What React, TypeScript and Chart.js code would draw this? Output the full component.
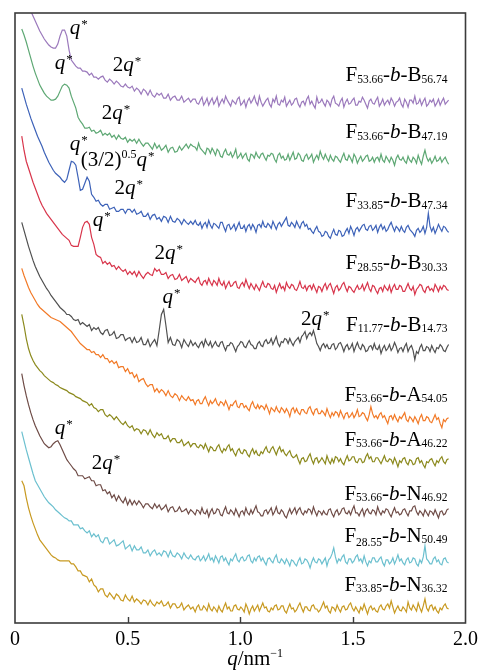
import { useEffect, useRef } from "react";
import { Chart, registerables } from "chart.js";

Chart.register(...registerables);

// Scattering vector q (nm^-1): 0.01 steps up to 0.79, then 0.0075 steps.
const q = [
  0.03, 0.04, 0.05, 0.06, 0.07, 0.08, 0.09, 0.1, 0.11, 0.12,
  0.13, 0.14, 0.15, 0.16, 0.17, 0.18, 0.19, 0.2, 0.21, 0.22,
  0.23, 0.24, 0.25, 0.26, 0.27, 0.28, 0.29, 0.3, 0.31, 0.32,
  0.33, 0.34, 0.35, 0.36, 0.37, 0.38, 0.39, 0.4, 0.41, 0.42,
  0.43, 0.44, 0.45, 0.46, 0.47, 0.48, 0.49, 0.5, 0.51, 0.52,
  0.53, 0.54, 0.55, 0.56, 0.57, 0.58, 0.59, 0.6, 0.61, 0.62,
  0.63, 0.64, 0.65, 0.66, 0.67, 0.68, 0.69, 0.7, 0.71, 0.72,
  0.73, 0.74, 0.75, 0.76, 0.77, 0.78, 0.79,
  0.8, 0.8075, 0.815, 0.8225, 0.83, 0.8375, 0.845, 0.8525, 0.86, 0.8675,
  0.875, 0.8825, 0.89, 0.8975, 0.905, 0.9125, 0.92, 0.9275, 0.935, 0.9425,
  0.95, 0.9575, 0.965, 0.9725, 0.98, 0.9875, 0.995, 1.0025, 1.01, 1.0175,
  1.025, 1.0325, 1.04, 1.0475, 1.055, 1.0625, 1.07, 1.0775, 1.085, 1.0925,
  1.1, 1.1075, 1.115, 1.1225, 1.13, 1.1375, 1.145, 1.1525, 1.16, 1.1675,
  1.175, 1.1825, 1.19, 1.1975, 1.205, 1.2125, 1.22, 1.2275, 1.235, 1.2425,
  1.25, 1.2575, 1.265, 1.2725, 1.28, 1.2875, 1.295, 1.3025, 1.31, 1.3175,
  1.325, 1.3325, 1.34, 1.3475, 1.355, 1.3625, 1.37, 1.3775, 1.385, 1.3925,
  1.4, 1.4075, 1.415, 1.4225, 1.43, 1.4375, 1.445, 1.4525, 1.46, 1.4675,
  1.475, 1.4825, 1.49, 1.4975, 1.505, 1.5125, 1.52, 1.5275, 1.535, 1.5425,
  1.55, 1.5575, 1.565, 1.5725, 1.58, 1.5875, 1.595, 1.6025, 1.61, 1.6175,
  1.625, 1.6325, 1.64, 1.6475, 1.655, 1.6625, 1.67, 1.6775, 1.685, 1.6925,
  1.7, 1.7075, 1.715, 1.7225, 1.73, 1.7375, 1.745, 1.7525, 1.76, 1.7675,
  1.775, 1.7825, 1.79, 1.7975, 1.805, 1.8125, 1.82, 1.8275, 1.835, 1.8425,
  1.85, 1.8575, 1.865, 1.8725, 1.88, 1.8875, 1.895, 1.9025, 1.91, 1.9175,
  1.925,
];

// Vertically offset intensities (a.u.), one array per sample, top to bottom.
const fb5674 = [
  662, 645, 630, 618, 611, 606, 601, 596, 591, 587,
  583, 580, 577, 575, 574, 574, 578, 586, 592, 592,
  586, 572, 562, 559, 556, 554, 554, 551, 551, 550,
  547, 549, 545, 545, 543, 545, 546, 542, 540, 543,
  541, 538, 541, 539, 536, 535, 538, 535, 534, 536,
  531, 534, 532, 528, 533, 531, 527, 532, 527, 525,
  529, 527, 529, 524, 524, 528, 522, 525, 526, 522,
  522, 526, 520, 522, 524, 520, 523,
  523, 519, 518, 522, 525, 517, 520, 524, 517, 521, 524, 518, 521, 525, 516, 520, 523, 519, 526, 522,
  519, 516, 522, 520, 518, 523, 525, 517, 519, 522, 515, 521, 524, 519, 522, 526, 520, 517, 526, 520,
  516, 519, 522, 524, 518, 515, 523, 520, 526, 518, 517, 522, 520, 525, 516, 519, 522, 517, 519, 523,
  524, 518, 515, 520, 521, 517, 523, 526, 518, 521, 517, 514, 525, 519, 520, 523, 519, 516, 522, 520,
  516, 523, 526, 519, 518, 516, 521, 524, 515, 520, 523, 518, 519, 522, 524, 517, 517, 521, 520, 525,
  522, 518, 514, 521, 523, 519, 518, 522, 525, 516, 519, 523, 517, 520, 522, 518, 524, 521, 516, 520,
  521, 524, 518, 515, 523, 520, 515, 522, 522, 519, 526, 518, 519, 523, 517, 521, 524, 516, 518, 522,
  520, 523, 516, 519, 523, 517, 521, 524, 518, 520, 522,
];

const fb4719 = [
  593, 587, 580, 572, 564, 556, 549, 543, 537, 533,
  529, 526, 524, 522, 522, 523, 526, 531, 536, 538,
  537, 534, 526, 520, 514, 505, 501, 498, 494, 494,
  495, 491, 492, 489, 490, 492, 487, 489, 487, 489,
  485, 487, 483, 487, 484, 483, 485, 480, 483, 481,
  483, 479, 483, 479, 476, 479, 479, 476, 473, 479,
  474, 477, 472, 474, 477, 470, 474, 475, 470, 471,
  476, 472, 475, 478, 474, 478, 476,
  475, 472, 479, 474, 472, 470, 468, 474, 473, 469, 474, 471, 467, 473, 471, 466, 465, 470, 473, 468,
  467, 470, 465, 468, 473, 464, 466, 469, 464, 467, 469, 463, 461, 468, 467, 464, 470, 466, 464, 468,
  469, 465, 462, 467, 466, 469, 468, 463, 460, 467, 469, 464, 466, 462, 463, 468, 462, 466, 470, 463,
  464, 469, 467, 462, 461, 466, 468, 463, 465, 468, 460, 464, 467, 463, 471, 466, 463, 468, 464, 461,
  467, 463, 461, 466, 465, 462, 460, 465, 469, 463, 462, 467, 464, 460, 468, 465, 459, 463, 466, 461,
  463, 466, 467, 461, 462, 465, 460, 464, 465, 461, 468, 462, 460, 466, 463, 460, 465, 462, 457, 464,
  467, 463, 462, 465, 461, 459, 466, 462, 460, 465, 463, 459, 467, 462, 458, 466, 472, 465, 461, 464,
  459, 462, 466, 461, 462, 465, 460, 463, 465, 461, 458,
];

const fb4734 = [
  534, 526, 518, 511, 504, 498, 492, 486, 481, 476,
  470, 465, 460, 456, 452, 449, 447, 445, 442, 440,
  443, 452, 461, 460, 457, 445, 432, 433, 439, 445,
  441, 428, 425, 421, 422, 418, 416, 418, 418, 413,
  414, 415, 411, 411, 413, 413, 409, 413, 413, 410,
  413, 408, 409, 411, 406, 406, 409, 403, 407, 408,
  403, 405, 401, 406, 405, 400, 406, 401, 400, 404,
  402, 398, 403, 400, 398, 401, 398,
  402, 398, 397, 400, 394, 398, 400, 395, 402, 397, 394, 399, 398, 396, 394, 400, 400, 395, 391, 397,
  398, 393, 395, 398, 392, 396, 400, 394, 394, 397, 391, 396, 398, 393, 398, 395, 390, 397, 398, 395,
  401, 396, 395, 399, 397, 394, 401, 397, 393, 398, 400, 396, 399, 402, 405, 397, 396, 400, 398, 395,
  401, 397, 394, 399, 401, 396, 398, 393, 394, 391, 389, 393, 396, 391, 390, 386, 387, 391, 390, 386,
  384, 389, 393, 388, 387, 392, 391, 386, 387, 391, 394, 389, 396, 392, 387, 393, 395, 391, 394, 397,
  398, 393, 392, 396, 397, 392, 394, 397, 390, 395, 398, 393, 396, 391, 393, 397, 400, 395, 391, 396,
  394, 391, 396, 392, 390, 395, 397, 393, 391, 389, 386, 392, 394, 390, 392, 396, 389, 395, 409, 396,
  391, 395, 389, 393, 398, 394, 391, 396, 395, 392, 390,
];

const fb3033 = [
  486, 472, 461, 454, 447, 440, 434, 428, 422, 417,
  413, 409, 406, 403, 400, 397, 394, 391, 388, 386,
  384, 382, 377, 376, 376, 376, 385, 395, 400, 401,
  398, 385, 378, 368, 366, 365, 359, 361, 358, 360,
  356, 357, 353, 356, 353, 351, 353, 348, 351, 348,
  351, 346, 351, 347, 344, 348, 350, 348, 347, 354,
  351, 353, 348, 348, 350, 344, 347, 348, 343, 344,
  348, 342, 344, 346, 340, 344, 342,
  340, 343, 345, 339, 337, 341, 342, 338, 344, 340, 337, 342, 340, 337, 344, 339, 337, 341, 334, 338,
  341, 336, 337, 340, 341, 335, 334, 338, 340, 336, 343, 338, 334, 339, 336, 333, 338, 335, 332, 337,
  341, 336, 335, 339, 338, 334, 333, 337, 330, 335, 339, 334, 336, 332, 340, 336, 334, 338, 337, 333,
  332, 336, 341, 335, 334, 337, 332, 336, 337, 333, 338, 334, 330, 336, 335, 331, 336, 339, 333, 337,
  339, 334, 329, 335, 337, 332, 334, 338, 340, 335, 331, 336, 335, 332, 330, 334, 337, 333, 334, 338,
  332, 336, 340, 334, 331, 337, 336, 332, 329, 334, 335, 331, 337, 334, 332, 337, 330, 335, 338, 333,
  333, 337, 336, 331, 331, 335, 339, 334, 332, 336, 328, 333, 335, 338, 337, 332, 330, 335, 336, 332,
  334, 331, 338, 335, 331, 336, 333, 337, 336, 333, 332,
];

const fb1473 = [
  400, 392, 384, 376, 369, 362, 356, 351, 346, 342,
  338, 334, 331, 327, 324, 321, 318, 315, 313, 311,
  308, 308, 306, 303, 302, 303, 298, 300, 298, 296,
  298, 292, 295, 293, 295, 290, 288, 292, 293, 287,
  288, 291, 284, 285, 288, 288, 282, 284, 285, 280,
  285, 280, 281, 285, 278, 278, 283, 276, 280, 283,
  277, 292, 308, 313, 297, 280, 285, 278, 277, 283,
  281, 275, 283, 279, 276, 282, 277,
  280, 277, 275, 279, 281, 276, 283, 279, 277, 281, 275, 278, 281, 277, 276, 280, 281, 276, 272, 277,
  277, 280, 279, 275, 271, 276, 278, 281, 280, 276, 275, 279, 282, 278, 277, 274, 274, 279, 281, 277,
  276, 281, 283, 279, 280, 284, 278, 282, 286, 279, 276, 281, 280, 284, 283, 279, 284, 280, 277, 281,
  283, 285, 280, 286, 288, 291, 284, 288, 290, 287, 292, 286, 279, 276, 272, 277, 279, 275, 278, 274,
  274, 278, 279, 273, 275, 279, 280, 276, 271, 276, 278, 273, 275, 279, 271, 276, 280, 275, 273, 278,
  276, 271, 272, 276, 277, 273, 279, 274, 273, 277, 269, 274, 277, 272, 274, 278, 272, 275, 280, 276,
  270, 274, 275, 271, 276, 279, 271, 275, 277, 272, 263, 271, 269, 275, 278, 272, 272, 276, 275, 271,
  277, 273, 270, 275, 274, 278, 276, 272, 271, 275, 278,
];

const fa5405 = [
  354, 347, 341, 335, 330, 326, 322, 318, 315, 313,
  311, 309, 307, 305, 304, 303, 302, 301, 299, 297,
  295, 293, 291, 288, 285, 282, 279, 277, 275, 273,
  273, 270, 271, 268, 268, 265, 268, 264, 264, 260,
  262, 259, 261, 255, 256, 256, 251, 254, 249, 250,
  245, 248, 241, 243, 244, 239, 236, 238, 238, 231,
  234, 230, 233, 231, 227, 232, 227, 225, 229, 227,
  222, 227, 224, 222, 226, 222, 223,
  218, 222, 223, 219, 219, 223, 226, 221, 217, 222, 219, 221, 224, 219, 217, 221, 220, 217, 222, 218,
  213, 218, 217, 220, 222, 216, 215, 219, 219, 215, 217, 214, 212, 218, 221, 216, 214, 218, 214, 217,
  216, 213, 218, 214, 209, 215, 213, 211, 216, 212, 210, 215, 213, 210, 214, 211, 206, 213, 215, 210,
  214, 210, 208, 213, 213, 210, 209, 214, 216, 211, 208, 213, 214, 209, 209, 212, 210, 207, 214, 209,
  205, 210, 207, 211, 210, 206, 212, 208, 204, 209, 210, 205, 207, 210, 205, 208, 213, 206, 207, 210,
  209, 205, 202, 208, 216, 209, 205, 207, 204, 208, 210, 205, 207, 203, 199, 206, 207, 203, 208, 204,
  201, 206, 204, 207, 210, 203, 201, 206, 204, 201, 206, 203, 199, 205, 208, 202, 202, 206, 205, 201,
  200, 204, 208, 203, 205, 199, 195, 203, 201, 204, 205,
];

const fa4622 = [
  308, 297, 284, 274, 267, 262, 258, 255, 252, 250,
  247, 245, 243, 241, 240, 238, 237, 235, 234, 233,
  232, 230, 229, 228, 226, 225, 224, 222, 221, 220,
  217, 219, 215, 214, 211, 213, 213, 208, 206, 208,
  206, 203, 206, 203, 200, 198, 201, 197, 195, 197,
  192, 194, 193, 189, 193, 192, 188, 193, 188, 185,
  190, 187, 189, 184, 184, 187, 181, 184, 184, 180,
  180, 183, 177, 179, 181, 176, 179,
  179, 176, 175, 178, 177, 174, 179, 175, 171, 176, 175, 172, 172, 176, 178, 173, 170, 174, 172, 176,
  178, 172, 174, 170, 167, 172, 174, 170, 169, 173, 172, 168, 166, 171, 174, 169, 172, 168, 167, 171,
  169, 173, 176, 171, 170, 174, 176, 172, 168, 173, 176, 171, 173, 169, 167, 170, 172, 167, 165, 166,
  168, 163, 159, 164, 165, 161, 162, 166, 169, 163, 159, 164, 165, 160, 162, 165, 162, 159, 167, 162,
  159, 164, 160, 166, 165, 161, 164, 160, 158, 163, 167, 162, 163, 166, 166, 161, 160, 164, 164, 160,
  161, 166, 169, 164, 166, 161, 161, 165, 165, 162, 159, 163, 167, 162, 161, 164, 163, 159, 165, 161,
  156, 162, 160, 164, 165, 160, 158, 163, 162, 158, 159, 164, 165, 160, 162, 158, 155, 161, 160, 163,
  164, 160, 157, 162, 160, 164, 166, 161, 159, 163, 164,
];

const fn4692 = [
  249, 237, 227, 218, 210, 203, 197, 192, 187, 183,
  179, 177, 175, 176, 179, 181, 182, 178, 173, 168,
  163, 160, 157, 154, 152, 147, 147, 147, 144, 145,
  146, 142, 142, 137, 138, 138, 132, 133, 129, 131,
  125, 128, 122, 127, 123, 120, 125, 118, 123, 118,
  122, 118, 122, 119, 115, 119, 119, 116, 114, 119,
  115, 118, 113, 115, 118, 111, 115, 116, 111, 112,
  116, 111, 112, 114, 109, 113, 111,
  108, 113, 112, 109, 115, 110, 109, 113, 106, 111, 114, 109, 110, 114, 113, 108, 107, 112, 116, 110,
  109, 113, 111, 108, 114, 110, 106, 111, 112, 108, 115, 110, 108, 113, 109, 113, 117, 111, 110, 107,
  107, 112, 113, 109, 112, 115, 108, 111, 116, 110, 109, 113, 111, 107, 105, 110, 114, 109, 112, 115,
  109, 113, 115, 110, 108, 112, 110, 114, 113, 109, 116, 111, 107, 112, 111, 108, 112, 109, 108, 113,
  114, 109, 106, 111, 113, 108, 110, 114, 115, 110, 109, 112, 108, 113, 117, 110, 110, 107, 111, 114,
  107, 112, 114, 110, 109, 113, 112, 108, 116, 111, 108, 112, 110, 114, 113, 109, 106, 111, 115, 110,
  111, 108, 109, 113, 114, 110, 107, 112, 112, 116, 117, 111, 108, 112, 110, 107, 113, 110, 107, 112,
  111, 108, 113, 109, 105, 111, 112, 108, 109, 113, 114,
];

const fn5049 = [
  191, 182, 173, 165, 157, 149, 142, 138, 134, 130,
  126, 123, 120, 118, 116, 113, 111, 109, 107, 105,
  104, 102, 102, 98, 98, 98, 94, 95, 92, 90,
  92, 86, 89, 86, 88, 82, 80, 85, 85, 79,
  81, 83, 77, 78, 80, 82, 74, 76, 78, 72,
  77, 73, 73, 76, 70, 70, 73, 67, 71, 73,
  68, 70, 67, 72, 71, 66, 72, 67, 66, 70,
  68, 64, 70, 66, 64, 68, 64,
  63, 66, 67, 62, 64, 67, 62, 65, 69, 63, 65, 61, 67, 64, 60, 66, 67, 62, 65, 61,
  58, 64, 62, 66, 69, 63, 61, 65, 66, 62, 63, 67, 68, 62, 60, 65, 62, 66, 67, 62,
  65, 61, 58, 64, 65, 62, 60, 65, 68, 61, 60, 64, 62, 59, 64, 61, 57, 63, 62, 59,
  57, 62, 65, 59, 60, 64, 63, 60, 55, 61, 65, 61, 60, 64, 63, 59, 62, 65, 57, 63,
  65, 69, 75, 66, 60, 64, 62, 66, 68, 61, 59, 64, 64, 60, 62, 66, 68, 62, 64, 60,
  67, 61, 57, 62, 60, 65, 65, 61, 61, 64, 66, 60, 57, 63, 63, 59, 61, 65, 59, 63,
  68, 62, 64, 60, 58, 63, 65, 60, 61, 65, 64, 59, 57, 63, 60, 66, 77, 64, 62, 59,
  59, 64, 66, 61, 63, 59, 58, 64, 65, 61, 60,
];

const fn3632 = [
  142, 137, 125, 115, 107, 100, 94, 88, 83, 80,
  77, 74, 71, 68, 66, 65, 63, 62, 62, 62,
  62, 62, 59, 59, 56, 52, 52, 48, 47, 46,
  41, 44, 38, 36, 31, 34, 34, 28, 26, 30,
  27, 24, 29, 27, 23, 22, 28, 24, 22, 27,
  21, 24, 22, 19, 23, 22, 18, 23, 19, 17,
  21, 19, 22, 17, 18, 21, 15, 19, 19, 15,
  16, 20, 13, 16, 18, 14, 16,
  11, 16, 18, 13, 13, 17, 15, 12, 19, 14, 12, 16, 14, 11, 17, 13, 11, 16, 20, 14,
  16, 12, 12, 17, 18, 14, 13, 16, 14, 11, 19, 15, 9, 14, 17, 12, 15, 18, 12, 16,
  20, 15, 16, 12, 11, 15, 13, 17, 18, 13, 14, 17, 17, 12, 10, 15, 19, 14, 15, 11,
  13, 17, 20, 15, 11, 16, 16, 13, 12, 17, 18, 14, 14, 11, 13, 17, 21, 15, 17, 12,
  10, 16, 15, 12, 18, 14, 11, 16, 17, 13, 14, 18, 20, 15, 12, 16, 13, 10, 16, 13,
  19, 14, 9, 15, 17, 13, 15, 12, 11, 16, 18, 14, 13, 17, 19, 15, 22, 16, 10, 14,
  17, 13, 12, 16, 14, 11, 21, 15, 13, 18, 15, 12, 20, 15, 11, 17, 24, 15, 12, 17,
  18, 13, 16, 12, 10, 15, 13, 17, 19, 15, 14,
];

const series = [fb5674, fb4719, fb4734, fb3033, fb1473, fa5405, fa4622, fn4692, fn5049, fn3632];

// Sample names: F<sub>-b-X<sub>
const fSub = ["53.66", "53.66", "33.85", "28.55", "11.77", "53.66", "53.66", "53.66", "28.55", "33.85"];
const block = ["B", "B", "B", "B", "B", "A", "A", "N", "N", "N"];
const blockSub = ["56.74", "47.19", "47.34", "30.33", "14.73", "54.05", "46.22", "46.92", "50.49", "36.32"];

const colors = [
  "#9b79bc", "#5ea874", "#3d62b8", "#d8354b", "#505050",
  "#f27a28", "#8c8a1e", "#6f4c47", "#6cc0cf", "#c89a22",
];

// Name label anchors (right edge q, baseline intensity) and extra drop of the first subscript.
const nameAnchorQ = 1.92;
const nameBaseline = [541, 484, 415, 353, 292, 222, 177, 123, 81, 32];
const firstSubDrop = [0, 0, 0, 0, 0, 0, 0, 0, 3, 0];

type Run = { t: string; s?: "n" | "i" | "sub" | "sup" | "supS" };

const Q_STAR: Run[] = [{ t: "q", s: "i" }, { t: "*", s: "sup" }];
const TWO_Q_STAR: Run[] = [{ t: "2" }, { t: "q", s: "i" }, { t: "*", s: "sup" }];
const ROOT_Q_STAR: Run[] = [{ t: "(3/2)" }, { t: "0.5", s: "supS" }, { t: "q", s: "i" }, { t: "*", s: "sup" }];

// Peak annotations: left edge in q, baseline in intensity units.
const notes: { runs: Run[]; x: number; y: number }[] = [
  { runs: Q_STAR, x: 0.243, y: 588 },
  { runs: TWO_Q_STAR, x: 0.434, y: 551 },
  { runs: Q_STAR, x: 0.177, y: 553 },
  { runs: TWO_Q_STAR, x: 0.385, y: 503 },
  { runs: Q_STAR, x: 0.243, y: 472 },
  { runs: ROOT_Q_STAR, x: 0.292, y: 456 },
  { runs: TWO_Q_STAR, x: 0.442, y: 428 },
  { runs: Q_STAR, x: 0.345, y: 396 },
  { runs: TWO_Q_STAR, x: 0.619, y: 363 },
  { runs: Q_STAR, x: 0.655, y: 319 },
  { runs: TWO_Q_STAR, x: 1.27, y: 298 },
  { runs: Q_STAR, x: 0.177, y: 189 },
  { runs: TWO_Q_STAR, x: 0.341, y: 154 },
];

const SERIF = '"Liberation Serif", "Times New Roman", serif';

function runFont(s: Run["s"]) {
  switch (s) {
    case "i":
      return { font: `italic 21px ${SERIF}`, dy: 0, dx: 0 };
    case "sub":
      return { font: `11.5px ${SERIF}`, dy: 1.5, dx: 0 };
    case "sup":
      return { font: `13px ${SERIF}`, dy: -6, dx: 1 };
    case "supS":
      return { font: `12px ${SERIF}`, dy: -8, dx: 0 };
    default:
      return { font: `21px ${SERIF}`, dy: 0, dx: 0 };
  }
}

function runsWidth(ctx: CanvasRenderingContext2D, runs: Run[]) {
  let w = 0;
  for (const r of runs) {
    const f = runFont(r.s);
    ctx.font = f.font;
    w += ctx.measureText(r.t).width + f.dx;
  }
  return w;
}

function drawRuns(ctx: CanvasRenderingContext2D, runs: (Run & { drop?: number })[], x: number, y: number) {
  let cx = x;
  for (const r of runs) {
    const f = runFont(r.s);
    ctx.font = f.font;
    cx += f.dx;
    ctx.fillText(r.t, cx, y + f.dy + (r.drop || 0));
    cx += ctx.measureText(r.t).width;
  }
}

const decor = {
  id: "decor",
  afterDraw(chart: Chart) {
    const { ctx, chartArea: a } = chart;
    const xs = chart.scales.x;
    const ys = chart.scales.y;
    ctx.save();

    // Plot frame
    ctx.strokeStyle = "#3b3b3b";
    ctx.lineWidth = 1.6;
    ctx.strokeRect(a.left, a.top, a.right - a.left, a.bottom - a.top);

    // Inward tick marks on the q axis
    ctx.lineWidth = 1.4;
    ctx.beginPath();
    for (const t of [0.5, 1, 1.5]) {
      const px = Math.round(xs.getPixelForValue(t)) + 0.5;
      ctx.moveTo(px, a.bottom);
      ctx.lineTo(px, a.bottom - 6);
    }
    ctx.stroke();

    ctx.fillStyle = "#000";
    ctx.textBaseline = "alphabetic";
    ctx.textAlign = "left";

    // Axis title q/nm^-1
    const title: Run[] = [{ t: "q", s: "i" }, { t: "/nm" }, { t: "\u22121", s: "supS" }];
    const tw = runsWidth(ctx, title);
    drawRuns(ctx, title, xs.getPixelForValue(1.066) - tw / 2, a.bottom + 42);

    // Sample names, right-aligned
    for (let i = 0; i < series.length; i++) {
      const runs: (Run & { drop?: number })[] = [
        { t: "F" },
        { t: fSub[i], s: "sub", drop: firstSubDrop[i] },
        { t: "-" },
        { t: "b", s: "i" },
        { t: "-" },
        { t: block[i] },
        { t: blockSub[i], s: "sub" },
      ];
      const w = runsWidth(ctx, runs);
      drawRuns(ctx, runs, xs.getPixelForValue(nameAnchorQ) - w, ys.getPixelForValue(nameBaseline[i]));
    }

    // Peak assignments
    for (const n of notes) {
      drawRuns(ctx, n.runs, xs.getPixelForValue(n.x), ys.getPixelForValue(n.y));
    }
    ctx.restore();
  },
};

export default function App() {
  const ref = useRef<HTMLCanvasElement>(null);

  useEffect(() => {
    if (!ref.current) return;
    const chart = new Chart(ref.current, {
      type: "line",
      data: {
        datasets: series.map((s, i) => ({
          label: `F${fSub[i]}-b-${block[i]}${blockSub[i]}`,
          data: q.map((x, j) => ({ x, y: s[j] })),
          borderColor: colors[i],
          borderWidth: 1.2,
          pointRadius: 0,
          fill: false,
          tension: 0,
        })),
      },
      options: {
        animation: false,
        responsive: false,
        events: [],
        layout: { padding: { left: 15, right: 16, top: 13, bottom: 14 } },
        plugins: {
          legend: { display: false },
          tooltip: { enabled: false },
        },
        scales: {
          x: {
            type: "linear",
            min: 0,
            max: 2,
            grid: { display: false, drawTicks: false },
            border: { display: false },
            ticks: {
              stepSize: 0.5,
              padding: 5,
              color: "#000",
              maxRotation: 0,
              autoSkip: false,
              font: { family: SERIF, size: 20 },
              callback: (v: any) => (Number(v) === 0 ? "0" : Number(v).toFixed(1)),
            },
          },
          y: { display: false, min: 0, max: 609 },
        },
      },
      plugins: [decor],
    });
    return () => chart.destroy();
  }, []);

  return (
    <div style={{ position: "absolute", left: 0, top: 0, width: 483, height: 671, background: "#fff" }}>
      <canvas ref={ref} width={483} height={671} style={{ display: "block", width: 483, height: 671 }} />
    </div>
  );
}
